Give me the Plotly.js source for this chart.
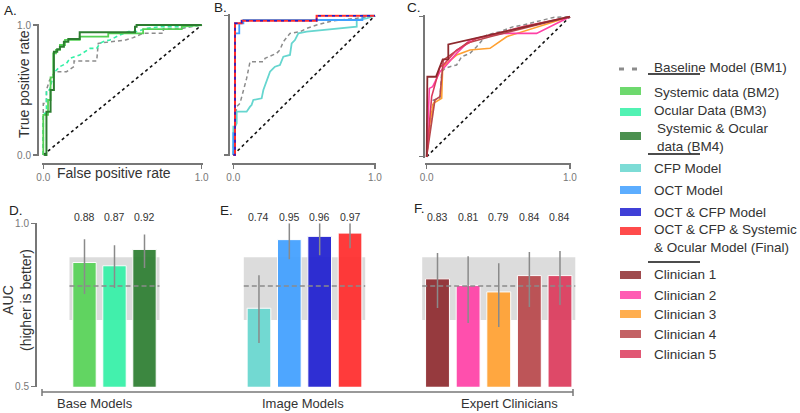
<!DOCTYPE html>
<html><head><meta charset="utf-8">
<script src="https://cdn.plot.ly/plotly-3.0.1.min.js"></script>
<style>html,body{margin:0;padding:0;background:#fff}#chart{width:800px;height:413px}</style>
</head><body><div id="chart"></div>
<script>
// ---------- ROC data ----------
const chance = [0, 1];
// Panel A
const bm1A_x = [0,0,0.02,0.02,0.04,0.063,0.074,0.147,0.194,0.194,0.337,0.347,0.42,0.52,0.568,0.589,0.63,0.758,0.758,0.874,1];
const bm1A_y = [0,0.397,0.397,0.5,0.577,0.615,0.641,0.641,0.68,0.723,0.723,0.859,0.872,0.885,0.903,0.915,0.936,0.936,0.974,0.974,1];
const bm2A_x = [0,0,0.03,0.03,0.046,0.046,0.063,0.063,0.08,0.08,0.105,0.105,0.137,0.137,0.23,0.23,0.41,0.41,0.63,0.63,0.874,0.874,1];
const bm2A_y = [0,0.308,0.308,0.423,0.423,0.597,0.597,0.782,0.782,0.808,0.808,0.846,0.846,0.885,0.885,0.91,0.91,0.936,0.936,0.969,0.969,0.987,1];
const bm3A_x = [0,0,0.02,0.02,0.04,0.053,0.074,0.105,0.147,0.168,0.23,0.295,0.337,0.358,0.378,0.42,0.484,0.537,0.589,0.653,0.737,0.905,1];
const bm3A_y = [0,0.32,0.32,0.5,0.5,0.564,0.641,0.68,0.705,0.744,0.769,0.82,0.82,0.859,0.872,0.885,0.923,0.949,0.949,0.974,0.987,0.987,1];
const bm4A_x = [0.005,0.02,0.02,0.046,0.046,0.067,0.067,0.088,0.088,0.105,0.105,0.13,0.13,0.158,0.158,0.23,0.23,0.579,0.579,0.589,0.589,1];
const bm4A_y = [0,0,0.333,0.333,0.5,0.5,0.795,0.795,0.813,0.813,0.833,0.833,0.872,0.872,0.892,0.892,0.944,0.944,0.987,0.987,1,1];
// Panel B
const bm1B_x = [0,0,0.012,0.024,0.047,0.071,0.094,0.118,0.212,0.224,0.306,0.329,0.353,0.4,0.471,0.518,0.588,0.706,0.871,1];
const bm1B_y = [0,0.06,0.227,0.347,0.371,0.467,0.55,0.67,0.67,0.694,0.73,0.754,0.813,0.873,0.885,0.909,0.933,0.964,0.981,1];
const cfpB_x = [0,0,0.012,0.024,0.024,0.094,0.118,0.129,0.141,0.2,0.212,0.235,0.259,0.282,0.294,0.329,0.353,0.4,0.412,0.435,0.459,0.518,0.588,0.706,0.871,0.871,0.941,1];
const cfpB_y = [0,0.203,0.203,0.227,0.311,0.311,0.347,0.359,0.395,0.407,0.467,0.538,0.598,0.622,0.634,0.646,0.706,0.718,0.801,0.825,0.873,0.885,0.892,0.909,0.921,0.969,0.981,1];
const octB_x = [0,0,0.012,0.012,0.042,0.042,0.071,0.071,0.911,0.911,1];
const octB_y = [0,0.156,0.156,0.873,0.873,0.945,0.945,0.969,0.969,1,1];
const octcfpB_x = [0,0.012,0.012,0.059,0.059,0.588,0.588,1];
const octcfpB_y = [0,0,0.945,0.945,0.964,0.964,1,1];
const finalB_x = [0,0.012,0.012,0.059,0.059,0.588,0.588,1];
const finalB_y = [0,0,0.945,0.945,0.964,0.964,1,1];
// Panel C
const bm1C_x = [0,0.012,0.047,0.093,0.105,0.128,0.163,0.209,0.244,0.302,0.349,0.419,0.512,0.605,0.674,0.884,1];
const bm1C_y = [0,0.119,0.405,0.417,0.607,0.631,0.643,0.655,0.714,0.738,0.786,0.869,0.893,0.929,0.94,0.995,1];
const clin1C_x = [0,0.005,0.065,0.112,0.151,0.151,1];
const clin1C_y = [0,0.571,0.571,0.695,0.695,0.802,1];
const clin2C_x = [0,0.019,0.042,0.093,0.128,0.209,0.302,0.395,0.535,0.767,1];
const clin2C_y = [0,0.488,0.5,0.607,0.643,0.738,0.833,0.857,0.881,0.881,1];
const clin3C_x = [0,0.023,0.047,0.105,0.112,0.209,0.302,0.442,0.558,1];
const clin3C_y = [0,0.238,0.381,0.417,0.643,0.726,0.762,0.774,0.857,1];
const clin4C_x = [0,0.023,0.058,0.093,0.116,0.279,0.442,1];
const clin4C_y = [0,0.167,0.405,0.429,0.69,0.81,0.857,1];
const clin5C_x = [0,0.035,0.093,0.116,0.209,0.349,0.674,1];
const clin5C_y = [0,0.429,0.643,0.655,0.762,0.845,0.929,1];

// ---------- AUC bar data ----------
const baseModels = ['Systemic data (BM2)','Ocular Data (BM3)','Systemic & Ocular data (BM4)'];
const baseAUC = [0.88, 0.87, 0.92];
const baseLo = [0.784, 0.802, 0.863];
const baseHi = [0.951, 0.933, 0.966];
const imageModels = ['CFP Model','OCT Model','OCT & CFP Model','OCT & CFP & Systemic & Ocular Model (Final)'];
const imageAUC = [0.74, 0.95, 0.96, 0.97];
const imageLo = [0.634, 0.89, 0.902, 0.924];
const imageHi = [0.841, 1.0, 1.0, 1.0];
const clinicians = ['Clinician 1','Clinician 2','Clinician 3','Clinician 4','Clinician 5'];
const clinAUC = [0.83, 0.81, 0.79, 0.84, 0.84];
const clinLo = [0.741, 0.695, 0.683, 0.744, 0.75];
const clinHi = [0.909, 0.899, 0.878, 0.912, 0.915];
const baselineAUC = 0.808;
const baselineCI = [0.704, 0.896];
const groupLabels = ['Base Models','Image Models','Expert Clinicians'];
const rocTicks = [0, 1];
const aucTicks = [0.5, 1.0];

// ---------- colours ----------
const C = {
  bm1:'#8c8c8c', bm2:'#55d255', bm3:'#33f0a6', bm4:'#2c7d30',
  cfp:'#66d6cf', oct:'#3f9fff', octcfp:'#1e1ed0', fin:'#ff2b2b',
  c1:'#8e2a2e', c2:'#ff40a6', c3:'#ffa030', c4:'#b8474a', c5:'#dc3a5c'
};
const baseColors = [C.bm2, C.bm3, C.bm4];
const imageColors = [C.cfp, C.oct, C.octcfp, C.fin];
const clinColors = [C.c1, C.c2, C.c3, C.c4, C.c5];

const legendLabels = ['Baseline Model (BM1)','Systemic data (BM2)','Ocular Data (BM3)','Systemic &amp; Ocular<br>data (BM4)',
  'CFP Model','OCT Model','OCT &amp; CFP Model','OCT &amp; CFP &amp; Systemic<br>&amp; Ocular Model (Final)',
  'Clinician 1','Clinician 2','Clinician 3','Clinician 4','Clinician 5'];
const legendColors = [C.bm1].concat(baseColors, imageColors, clinColors);

// ---------- helpers ----------
const X = p => p / 800;
const Y = p => 1 - p / 413;
const FONT = 'Liberation Sans, Arial, Helvetica, sans-serif';

function line(xs, ys, xa, ya, color, width, dash) {
  return {type:'scatter', mode:'lines', x:xs, y:ys, xaxis:xa, yaxis:ya,
    line:{color:color, width:width, dash:dash||'solid'}, hoverinfo:'skip', showlegend:false};
}
function bars(cats, vals, lo, hi, colors, xa) {
  return {type:'bar', x:cats, y:vals, xaxis:xa, yaxis:'y4', showlegend:false, hoverinfo:'skip',
    marker:{color:colors, opacity:0.92, line:{color:'#ffffff', width:1}},
    error_y:{type:'data', symmetric:false, array:hi.map((h,i)=>h-vals[i]), arrayminus:lo.map((l,i)=>vals[i]-l),
      color:'#8a8a8a', thickness:1.5, width:0}};
}

const traces = [
  // A
  line(chance, chance, 'x', 'y', '#111', 1.6, 'dot'),
  line(bm1A_x, bm1A_y, 'x', 'y', C.bm1, 1.5, '4px,3px'),
  line(bm3A_x, bm3A_y, 'x', 'y', C.bm3, 1.6, '4px,3px'),
  line(bm2A_x, bm2A_y, 'x', 'y', C.bm2, 1.8),
  line(bm4A_x, bm4A_y, 'x', 'y', C.bm4, 2),
  // B
  line(chance, chance, 'x2', 'y2', '#111', 1.6, 'dot'),
  line(bm1B_x, bm1B_y, 'x2', 'y2', C.bm1, 1.5, '4px,3px'),
  line(cfpB_x, cfpB_y, 'x2', 'y2', C.cfp, 1.8),
  line(octB_x, octB_y, 'x2', 'y2', C.oct, 1.8),
  line(finalB_x, finalB_y, 'x2', 'y2', C.fin, 2),
  line(octcfpB_x, octcfpB_y, 'x2', 'y2', C.octcfp, 1.6, '3px,4px'),
  // C
  line(chance, chance, 'x3', 'y3', '#111', 1.6, 'dot'),
  line(bm1C_x, bm1C_y, 'x3', 'y3', C.bm1, 1.5, '4px,3px'),
  line(clin3C_x, clin3C_y, 'x3', 'y3', C.c3, 1.6),
  line(clin2C_x, clin2C_y, 'x3', 'y3', C.c2, 1.6),
  line(clin4C_x, clin4C_y, 'x3', 'y3', C.c4, 1.6),
  line(clin5C_x, clin5C_y, 'x3', 'y3', C.c5, 1.6),
  line(clin1C_x, clin1C_y, 'x3', 'y3', C.c1, 1.8),
  // D, E, F
  bars(baseModels, baseAUC, baseLo, baseHi, baseColors, 'x4'),
  bars(imageModels, imageAUC, imageLo, imageHi, imageColors, 'x5'),
  bars(clinicians, clinAUC, clinLo, clinHi, clinColors, 'x6')
];

function rocXAxis(d0, d1) {
  return {domain:[X(d0), X(d1)], range:[-0.01, 1.01], anchor:'free', position:Y(163),
    showline:true, linecolor:'#777', linewidth:1.5, ticks:'outside', ticklen:4, tickwidth:1.5, tickcolor:'#777',
    tickvals:rocTicks, tickformat:'.1f', tickfont:{size:10, color:'#777', family:FONT},
    showgrid:false, zeroline:false, fixedrange:true};
}
function rocYAxis(top, bottom, pos, labels) {
  return {domain:[Y(bottom), Y(top)], range:[-0.01, 1.01], anchor:'free', position:X(pos),
    showline:true, linecolor:'#777', linewidth:1.5, ticks:'outside', ticklen:4, tickwidth:1.5, tickcolor:'#777',
    tickvals:rocTicks, tickformat:'.1f', showticklabels:labels, tickfont:{size:10, color:'#777', family:FONT},
    showgrid:false, zeroline:false, fixedrange:true};
}
function catAxis(d0, d1) {
  return {domain:[X(d0), X(d1)], anchor:'y4', type:'category', showline:false, showticklabels:false,
    ticks:'', showgrid:false, zeroline:false, fixedrange:true};
}

const shapes = [];
['x4','x5','x6'].forEach(xa => {
  shapes.push({type:'rect', xref:xa+' domain', yref:'y4', x0:0, x1:1, y0:baselineCI[0], y1:baselineCI[1],
    fillcolor:'#dcdcdc', line:{width:0}, layer:'below'});
  shapes.push({type:'line', xref:xa+' domain', yref:'y4', x0:0, x1:1, y0:baselineAUC, y1:baselineAUC,
    line:{color:'#8a8a8a', width:1.5, dash:'5px,3px'}, layer:'above'});
});
// bottom axis of bar panels
shapes.push({type:'line', xref:'paper', yref:'paper', x0:X(42), x1:X(573), y0:Y(392), y1:Y(392), line:{color:'#777', width:1.5}});
[42, 573].forEach(p => shapes.push({type:'line', xref:'paper', yref:'paper', x0:X(p), x1:X(p), y0:Y(389), y1:Y(396), line:{color:'#777', width:1.5}}));

const annotations = [];
function txt(x, y, t, size, opts) {
  annotations.push(Object.assign({xref:'paper', yref:'paper', x:X(x), y:Y(y), text:t, showarrow:false,
    font:{size:size, color:'#222', family:FONT}, xanchor:'center', yanchor:'middle'}, opts||{}));
}
// panel letters
txt(2, 10, 'A.', 13.5, {xanchor:'left'});
txt(212, 8, 'B.', 13.5, {xanchor:'left'});
txt(405, 8, 'C.', 13.5, {xanchor:'left'});
txt(7, 210, 'D.', 13.5, {xanchor:'left'});
txt(218, 210, 'E.', 13.5, {xanchor:'left'});
txt(412, 209, 'F.', 13.5, {xanchor:'left'});
// ROC axis titles
txt(24, 84, 'True positive rate', 14, {textangle:-90, font:{size:14, color:'#333', family:FONT}});
txt(114, 173, 'False positive rate', 14, {font:{size:14, color:'#333', family:FONT}});
// AUC title
txt(17, 300, 'AUC<br>(higher is better)', 14, {textangle:-90, font:{size:14, color:'#333', family:FONT}});
// group labels
txt(95, 403, groupLabels[0], 13, {font:{size:13, color:'#333', family:FONT}});
txt(303, 403, groupLabels[1], 13, {font:{size:13, color:'#333', family:FONT}});
txt(510, 403, groupLabels[2], 13, {font:{size:13, color:'#333', family:FONT}});
// value labels above bars
[[baseModels, baseAUC, 'x4'], [imageModels, imageAUC, 'x5'], [clinicians, clinAUC, 'x6']].forEach(([cats, vals, xa]) => {
  cats.forEach((c, i) => annotations.push({xref:xa, yref:'paper', x:c, y:Y(217), text:vals[i].toFixed(2), showarrow:false,
    font:{size:10.5, color:'#333', family:FONT}, xanchor:'center', yanchor:'middle'}));
});
// legend
const legTextY = [68, 92, 110, 137, 168, 190, 212, 238.5, 274, 295, 314, 334, 354];
const legSwY = [69, 91, 112, 136, 168, 190, 212, 231, 275, 295, 314, 334, 354];
legendLabels.forEach((lab, i) => {
  txt(i === 3 ? 655 : 652, legTextY[i], lab, 13.5, {xanchor:'left', align:'left', font:{size:13.5, color:'#333', family:FONT}});
  if (i === 0) {
    [619, 632].forEach(p => shapes.push({type:'rect', xref:'paper', yref:'paper', x0:X(p), x1:X(p+5), y0:Y(legSwY[i]+1.5), y1:Y(legSwY[i]-1.5),
      fillcolor:legendColors[i], line:{width:0}}));
  } else {
    shapes.push({type:'rect', xref:'paper', yref:'paper', x0:X(620), x1:X(641), y0:Y(legSwY[i]+4), y1:Y(legSwY[i]-4),
      fillcolor:legendColors[i], opacity:0.85, line:{width:0}});
  }
});
[74, 154, 262].forEach(p => shapes.push({type:'line', xref:'paper', yref:'paper', x0:X(648), x1:X(700), y0:Y(p), y1:Y(p), line:{color:'#111', width:1.5}}));

const layout = {
  width:800, height:413, margin:{l:0, r:0, t:0, b:0}, paper_bgcolor:'#fff', plot_bgcolor:'rgba(0,0,0,0)',
  showlegend:false, bargap:0.22, font:{family:FONT},
  xaxis: rocXAxis(41.7, 203.3),
  yaxis: rocYAxis(23.7, 156.3, 37, true),
  xaxis2: rocXAxis(231.9, 376.4),
  yaxis2: rocYAxis(14.3, 156.4, 228, false),
  xaxis3: rocXAxis(425.2, 571.4),
  yaxis3: rocYAxis(15.3, 158.1, 423, false),
  xaxis4: catAxis(69.5, 159.5),
  xaxis5: catAxis(243.8, 365.2),
  xaxis6: catAxis(422.2, 575.3),
  yaxis4: {domain:[Y(386.7), Y(223.3)], range:[0.5, 1.0], anchor:'free', position:X(35),
    showline:true, linecolor:'#777', linewidth:1.5, ticks:'outside', ticklen:4, tickwidth:1.5, tickcolor:'#777',
    tickvals:aucTicks, tickformat:'.1f', tickfont:{size:10, color:'#777', family:FONT},
    showgrid:false, zeroline:false, fixedrange:true},
  shapes:shapes, annotations:annotations
};
Plotly.newPlot('chart', traces, layout, {displayModeBar:false, staticPlot:true});
</script></body></html>
